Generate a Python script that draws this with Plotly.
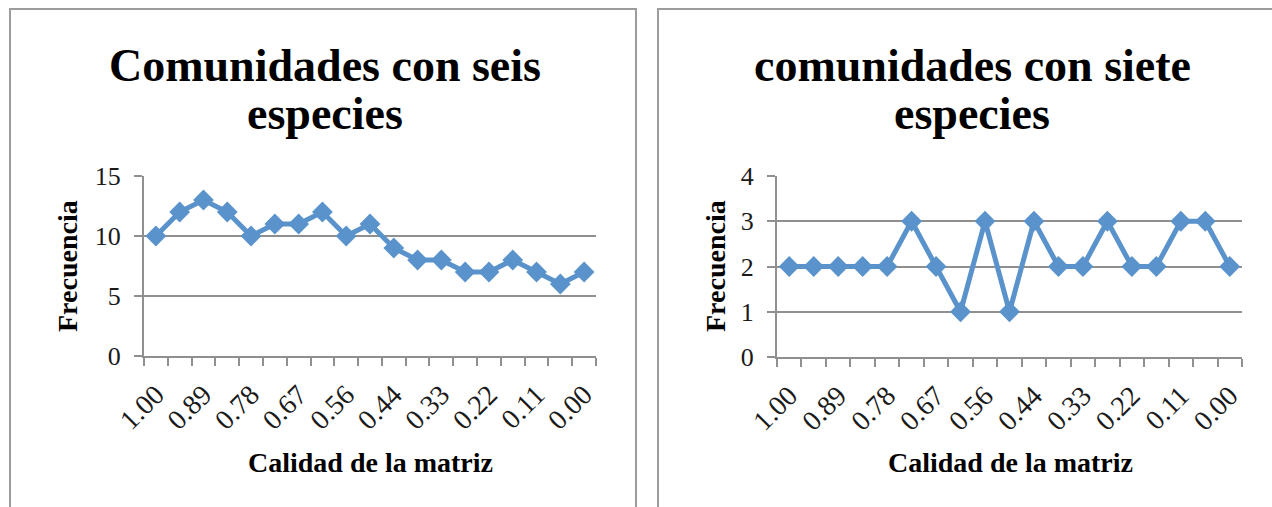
import plotly.graph_objects as go

# Matrix-quality categories (19 steps from 1.00 down to 0.00)
calidad = ["1.00", "0.94", "0.89", "0.83", "0.78", "0.72", "0.67", "0.61", "0.56", "0.50",
           "0.44", "0.39", "0.33", "0.28", "0.22", "0.17", "0.11", "0.06", "0.00"]

# Frequencies for communities with six species
frec_seis = [10, 12, 13, 12, 10, 11, 11, 12, 10, 11, 9, 8, 8, 7, 7, 8, 7, 6, 7]

# Frequencies for communities with seven species
frec_siete = [2, 2, 2, 2, 2, 3, 2, 1, 3, 1, 3, 2, 2, 3, 2, 2, 3, 3, 2]

W, H = 1272, 507
LINE = "#5a93cb"
GRAY = "#8f8f8f"
BORDER = "#9c9c9c"
SERIF = "Liberation Serif, Times New Roman, serif"


def px(x):
    return x / W


def py(y):
    return 1 - y / H


idx = list(range(len(calidad)))
label_idx = idx[::2]
label_txt = [calidad[i] for i in label_idx]
bounds = [i - 0.5 for i in range(len(calidad) + 1)]

fig = go.Figure()

for k, vals in enumerate([frec_seis, frec_siete]):
    fig.add_trace(go.Scatter(
        x=idx, y=vals, mode="lines+markers",
        line=dict(color=LINE, width=5),
        marker=dict(symbol="diamond", size=16, color=LINE),
        xaxis="x" if k == 0 else "x2",
        yaxis="y" if k == 0 else "y2",
        showlegend=False, hoverinfo="skip",
    ))

xcommon = dict(
    range=[-0.5, len(calidad) - 0.5],
    tickmode="array", tickvals=label_idx, ticktext=label_txt,
    tickangle=-45, ticks="", ticklabelstandoff=9,
    tickfont=dict(family=SERIF, size=28, color="#1a1a1a"),
    showgrid=False, zeroline=False,
    showline=True, linecolor=GRAY, linewidth=2,
    minor=dict(tickmode="array", tickvals=bounds, ticks="outside",
               ticklen=8, tickwidth=2, tickcolor=GRAY, showgrid=False),
    fixedrange=True,
)
ycommon = dict(
    showgrid=True, gridcolor=GRAY, gridwidth=2,
    zeroline=False, showline=True, linecolor=GRAY, linewidth=2,
    ticks="outside", ticklen=8, tickwidth=2, tickcolor=GRAY,
    ticklabelstandoff=8,
    tickfont=dict(family=SERIF, size=26, color="#1a1a1a"),
    fixedrange=True,
)

fig.update_layout(
    width=W, height=H,
    margin=dict(l=0, r=0, t=0, b=0, pad=0, autoexpand=False),
    paper_bgcolor="white", plot_bgcolor="white",
    xaxis=dict(domain=[px(144), px(596)], anchor="y", **xcommon),
    yaxis=dict(domain=[py(356), py(176)], anchor="x", range=[0, 15], dtick=5, **ycommon),
    xaxis2=dict(domain=[px(777), px(1242)], anchor="y2", **xcommon),
    yaxis2=dict(domain=[py(357), py(176)], anchor="x2", range=[0, 4], dtick=1, **ycommon),
)

# Panel frames
fig.add_shape(type="rect", xref="paper", yref="paper",
              x0=px(10), x1=px(636), y0=py(9), y1=py(530),
              line=dict(color=BORDER, width=2), layer="below")
fig.add_shape(type="rect", xref="paper", yref="paper",
              x0=px(658), x1=px(1300), y0=py(9), y1=py(530),
              line=dict(color=BORDER, width=2), layer="below")

title_font = dict(family=SERIF, size=46, color="black")
axis_font = dict(family=SERIF, size=28, color="black")


def text(x, y, s, font, angle=0):
    fig.add_annotation(x=px(x), y=py(y), xref="paper", yref="paper",
                       text=s, showarrow=False, font=font, textangle=angle,
                       xanchor="center", yanchor="middle")


# Chart titles
text(325, 65, "<b>Comunidades con seis</b>", title_font)
text(325, 113, "<b>especies</b>", title_font)
text(972, 65, "<b>comunidades con siete</b>", title_font)
text(972, 113, "<b>especies</b>", title_font)

# Axis titles
text(67, 266, "<b>Frecuencia</b>", axis_font, angle=-90)
text(715, 266, "<b>Frecuencia</b>", axis_font, angle=-90)
text(370, 462, "<b>Calidad de la matriz</b>", axis_font)
text(1010, 462, "<b>Calidad de la matriz</b>", axis_font)

fig.write_html("out.html")
